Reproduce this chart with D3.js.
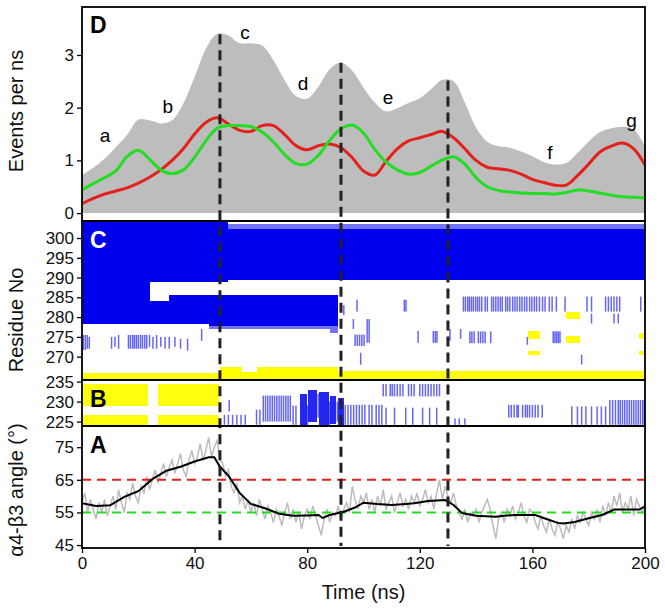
<!DOCTYPE html>
<html>
<head>
<meta charset="utf-8">
<script src="https://cdn.jsdelivr.net/npm/d3@7"></script>
<style>
  body { margin: 0; background: #fff; }
  svg { display: block; font-family: "Liberation Sans", Arial, sans-serif; }
</style>
</head>
<body>
<svg id="chart" width="665" height="611"></svg>
<script>
// ---- Panel D: events per ns (sampled every 4 ns) ----
const dTimes = [0,4,8,12,16,20,24,28,32,36,40,44,48,52,56,60,64,68,72,76,80,84,88,92,96,100,
  104,108,112,116,120,124,128,132,136,140,144,148,152,156,160,164,168,172,176,180,184,188,192,196,200];
const totalEvents = [0.72,0.86,1.03,1.25,1.48,1.77,1.76,1.70,1.76,2.08,2.58,3.12,3.40,3.37,3.22,3.22,3.18,2.90,2.52,2.22,2.17,
  2.40,2.73,2.85,2.70,2.38,2.10,1.93,1.99,2.09,2.18,2.35,2.53,2.50,2.10,1.62,1.35,1.27,1.24,1.17,1.08,0.97,0.92,0.95,1.14,1.36,
  1.54,1.61,1.64,1.59,1.26];
const redEvents = [0.18,0.28,0.36,0.42,0.48,0.57,0.68,0.82,1.00,1.22,1.50,1.72,1.81,1.69,1.57,1.55,1.66,1.66,1.49,1.28,1.20,
  1.28,1.31,1.24,1.05,0.80,0.72,0.98,1.22,1.37,1.43,1.49,1.55,1.43,1.22,1.00,0.87,0.84,0.81,0.74,0.64,0.58,0.53,0.53,0.71,0.93,
  1.16,1.27,1.33,1.22,0.91];
const greenEvents = [0.44,0.56,0.67,0.80,1.07,1.19,1.02,0.82,0.75,0.82,1.06,1.37,1.61,1.66,1.66,1.64,1.54,1.35,1.11,0.94,0.93,
  1.10,1.38,1.60,1.67,1.52,1.21,0.97,0.82,0.74,0.77,0.89,1.01,1.07,0.93,0.67,0.50,0.43,0.40,0.38,0.37,0.37,0.36,0.39,0.44,0.42,
  0.38,0.34,0.31,0.30,0.29];
const stageLabels = ["a","b","c","d","e","f","g"];
const stageLabelT = [8.2, 30.5, 57.9, 78.5, 108.7, 166.2, 195.2];
const stageLabelV = [1.48, 2.02, 3.42, 2.47, 2.2, 1.16, 1.76];
const eventTimes = [49, 92, 130];

// ---- Panel C: contacts, residues 264-304 ----
// dense blocks [t0, t1, resFrom, resTo]
const cBlueBlocks = [[0,52,289,304.3],[52,200,289.3,302.2],[0,24,278.3,289.5],[24,31,278.3,284],
  [31,45,278.3,285.5],[45,91,277.8,285.5]];
const cBlueFaint = [[52,200,302.2,303.6],[45,91,277,277.8],[88,91,276,277]];
// single events [t, resFrom, resTo]
const cBlueBars = [[0.5,271.7,275.5],[1.2,271.7,275.5],[1.9,272,275.5],[2.6,272,275],[10.5,272,275],[11.7,272.5,275],
  [13,272,275.5],[16.5,272,275.5],[17.2,272,275.5],[18,272,275.5],[18.6,272,275.5],[19.3,272,275.5],[20,272,275.5],
  [20.8,272,275.5],[21.5,272,275.5],[22.3,272,275.5],[23,272,275.5],[24,272.5,275.5],[25.2,272,275],[26.5,272,275.5],
  [28,272.5,275],[29.5,272,275],[31,272,275],[33,272.5,275],[35,272,274.5],[37.5,271.5,274.5],[42.5,274,277],
  [93,280.5,283],[96.4,277,279.5],[97.7,281.4,284.4],[97,272.7,275.6],[97.8,272.7,275.6],[98.6,272.7,275.6],
  [99.4,272.7,275.6],[100.2,272.7,275.6],[99,268,271],[101.3,273.5,279.5],[102,273.5,279.5],[114.5,281.4,284.4],
  [115.1,281.4,284.4],[119.4,273.5,276.5],[124.8,273.5,276.5],[125.5,273.5,276.5],[126.1,273.5,276.5],[130.7,274,277],
  [134.5,274.5,277],
  [135.5,281.4,285.2],[136.2,281.4,285.2],[137,281.4,285.2],[137.6,281.4,285.2],[138.3,281.4,285.2],[139,281.4,285.2],
  [139.8,281.4,285.2],[140.5,281.4,285.2],[141.2,281.4,285.2],[142,281.4,285.2],[143.2,281.4,285.2],[144,281.4,285.2],
  [145.5,281.4,285.2],[146.2,281.4,285.2],[147,281.4,285.2],[147.8,281.4,285.2],[148.6,281.4,285.2],[149.3,281.4,285.2],
  [150.5,281.4,285.2],[151.2,281.4,285.2],[152,281.4,285.2],[153,281.4,285.2],[153.8,281.4,285.2],[154.6,281.4,285.2],
  [155.5,281.4,285.2],[156.3,281.4,285.2],[157.2,281.4,285.2],[158,281.4,285.2],[159,281.4,285.2],[159.8,281.4,285.2],
  [160.7,281.4,285.2],[161.5,281.4,285.2],[162.5,281.4,285.2],[163.6,281.4,285.2],[164.5,281.4,285.2],[166,281.4,285.2],
  [167,281.4,285.2],[168.5,281.4,285.2],[171.6,281.4,285.2],[179.4,281.4,285.2],[181,281.4,285.2],[186,281.4,285.2],
  [187,281.4,285.2],[188,281.4,285.2],[189,281.4,285.2],[190,281.4,285.2],[191,281.4,285.2],[198.5,281.4,285.2],
  [181,278.4,280.9],[189,278.4,280.9],[190.5,278.4,280.9],
  [137.8,273.4,276.4],[138.5,273.4,276.4],[139.3,273.4,276.4],[140.8,273.4,276.4],[141.6,273.4,276.4],[142.4,273.4,276.4],
  [143.2,273.4,276.4],[145.2,273.4,276.4],[158.2,273,275],[167.4,273.4,276.4],[168,273.4,276.4],[168.6,273.4,276.4],
  [169.2,273.4,276.4],[169.8,273.4,276.4],[177.5,268,270.5]];
const cYellowBlocks = [[0,49,264.1,265.8],[49,57,264.1,267.3],[57,62,264.1,266.2],[62,91,264.1,267.5],[91,200,264.1,266.3],
  [158.5,162.7,274.4,276.4],[158.5,162.7,270.4,271.5],[171.9,177,279.5,281.4],[172,177,273.4,275.3],
  [198,199.6,274.4,276],[198,199.6,270.4,271.5]];

// ---- Panel B: contacts, residues 224-235 ----
const bYellowBlocks = [[0,23.3,228.8,234.3],[27,48.7,228.8,234.3],[0,23.3,224.2,226.6],[27,48.7,224.2,226.6]];
const bBlueBlocks = [[77.4,79.8,224.2,232],[80.4,83.6,225,233],[84.2,87.6,224.2,232.5],[88.2,90.4,224.5,231.5],
  [91,93,224.2,231]];
const bBlueBars = [[50.6,224.2,226.7],[52,224.2,226.7],[53.5,224.2,226.7],[55,224.2,226.7],[56.5,224.2,226.7],
  [58,224.2,226.7],[52.3,227.5,230.4],[62,224.2,228],[63.2,224.2,228],
  [64.4,225,231.5],[65.2,225,231.5],[66,225,231.5],[66.8,225,231.5],[67.6,225,231.5],[68.4,225,231.5],[69.2,225,231.5],
  [70,225,231.5],[70.8,225,231.5],[71.6,225,231.5],[72.4,225,231.5],[73.2,225,231.5],[74,225,231.5],[75,224.2,229],
  [76,224.2,229],[80.1,224.2,229],[83.9,226,232],[87.9,224.2,230],[90.7,225,230],
  [93.5,224.2,229.2],[94.5,224.2,229.2],[95.5,224.2,229.2],[96.5,224.2,229.2],[97.5,224.2,229.2],[98.5,224.2,229.2],
  [99.5,224.2,229.2],[100.5,224.2,229.2],[102,224.2,229.2],[103,224.2,229.2],[104.5,224.2,229.2],[105.5,224.2,229.2],
  [106.5,224.2,229.2],
  [107,231.3,234.4],[108,231.3,234.4],[109.5,231.3,234.4],[110.2,231.3,234.4],[111,231.3,234.4],[112,231.3,234.4],
  [113,231.3,234.4],[114,231.3,234.4],[116,231.3,234.4],[117,231.3,234.4],[118,231.3,234.4],
  [108,224.2,228.5],[111,224.2,228.5],[115,224.2,228.5],[117.5,224.2,228.5],
  [120,231.3,234.4],[121,231.3,234.4],[122,231.3,234.4],[123,231.3,234.4],[124,231.3,234.4],[125,231.3,234.4],
  [126,231.3,234.4],[127,231.3,234.4],[121,224.2,228.5],[123.5,224.2,228.5],[126,224.2,228.5],
  [132.5,224.2,225.8],[134,224.2,225.8],[136,224.2,225.8],
  [151.6,226,229.2],[152.5,226,229.2],[153.5,226,229.2],[154.5,226,229.2],[155,226,229.2],[156.5,226,229.2],
  [157.5,226,229.2],[158.2,226,229.2],[159,226,229.2],[160,226,229.2],[161,226,229.2],[162,226,229.2],[163.5,226,229.2],
  [174,224.2,228.8],[176,224.2,228.8],[177.5,224.2,228.8],[179,224.2,228.8],[181,224.2,228.8],[183,224.2,228.8],
  [184.5,224.2,228.8],[186,224.2,228.8],
  [187.5,224.2,230.4],[188.5,224.2,230.4],[189.5,224.2,230.4],[190.5,224.2,230.4],[191.2,224.2,230.4],[192,224.2,230.4],
  [192.8,224.2,230.4],[193.6,224.2,230.4],[194.4,224.2,230.4],[195.2,224.2,230.4],[196,224.2,230.4],[196.8,224.2,230.4],
  [197.6,224.2,230.4],[198.4,224.2,230.4],[199.2,224.2,230.4],[199.8,224.2,230.4]];

// ---- Panel A: a4-b3 angle, raw every 1 ns and running mean ----
const rawAngle = [58,61,55,59,56,53,58,55,59,54, 57,60,56,62,58,55,61,59,64,60, 58,63,61,66,62,65,68,64,67,70,
  66,69,71,67,70,73,68,66,71,74, 70,72,76,71,74,78,72,75,77,71, 70,66,68,63,61,64,58,60,56,59,
  55,58,54,59,56,53,57,55,52,56, 54,51,55,58,53,56,52,55,50,54, 56,53,57,54,51,48,53,56,52,55,
  54,57,53,56,58,55,63,59,56,60, 58,61,56,59,55,60,57,62,56,58, 60,55,58,61,57,59,56,60,58,61,
  57,59,62,58,60,56,61,65,59,63, 60,58,61,57,55,53,56,52,55,54, 56,52,55,57,59,56,51,47,53,55,
  52,56,54,57,53,55,58,54,52,56, 55,52,50,54,51,49,53,50,48,52, 50,47,51,49,53,50,54,52,55,53,
  51,55,53,56,52,57,54,58,55,60, 57,61,55,58,56,60,54,59,57,55, 58];
const meanTimes = [0,5,10,15,20,25,30,35,40,45,47,49,52,56,60,65,70,75,80,84,85.5,88,93,97,100,105,110,115,118,123,129,
  132,135,140,147,150,154,161,165,169,171,175,180,185,189,198,200];
const meanAngle = [57.8,57.0,57.2,59.8,61.5,65.2,67.8,69.0,70.6,71.9,71.9,69.0,66.3,61.0,57.6,56.3,54.6,54.0,54.1,54.2,
  53.3,54.2,55.2,56.5,58.0,57.6,57.3,57.6,57.8,58.5,58.8,57.3,54.8,54.0,53.7,54.0,54.2,54.2,53.0,51.8,51.6,52.1,53.2,
  54.3,55.9,55.9,56.9];
const angleRefLines = [65, 55];

const xTicks = [0, 40, 80, 120, 160, 200];

// ---- Layout ----
const left = 82, right = 645;
const panels = {
  D: { top: 7, bottom: 221 },
  C: { top: 221, bottom: 380 },
  B: { top: 380, bottom: 426 },
  A: { top: 426, bottom: 548 }
};
const blue = "#0000ee", yellow = "#ffff00", tickFont = 17, titleFont = 20;

const svg = d3.select("#chart");

const x = d3.scaleLinear().domain([0, 200]).range([left, right]);
const yD = d3.scaleLinear().domain([-0.15, 3.91]).range([panels.D.bottom, panels.D.top]);
const yC = d3.scaleLinear().domain([264.1, 304.3]).range([panels.C.bottom, panels.C.top]);
const yB = d3.scaleLinear().domain([223.9, 235.4]).range([panels.B.bottom, panels.B.top]);
const yA = d3.scaleLinear().domain([44.1, 81.5]).range([panels.A.bottom, panels.A.top]);

// clip paths so nothing spills out of a panel
const defs = svg.append("defs");
Object.keys(panels).forEach(k => {
  defs.append("clipPath").attr("id", "clip" + k)
    .append("rect")
    .attr("x", left).attr("y", panels[k].top)
    .attr("width", right - left).attr("height", panels[k].bottom - panels[k].top);
});

// ---- Panel D ----
const gD = svg.append("g").attr("clip-path", "url(#clipD)");
const dPoints = dTimes.map((t, i) => i);

gD.append("path")
  .datum(dPoints)
  .attr("fill", "#bdbdbd")
  .attr("d", d3.area()
    .x(i => x(dTimes[i]))
    .y0(yD(0))
    .y1(i => yD(totalEvents[i]))
    .curve(d3.curveCatmullRom));

[[redEvents, "#e3201b"], [greenEvents, "#22dd22"]].forEach(([vals, col]) => {
  gD.append("path")
    .datum(dPoints)
    .attr("fill", "none")
    .attr("stroke", col)
    .attr("stroke-width", 3)
    .attr("d", d3.line()
      .x(i => x(dTimes[i]))
      .y(i => yD(vals[i]))
      .curve(d3.curveCatmullRom));
});

svg.append("g")
  .selectAll("text")
  .data(stageLabels)
  .join("text")
  .attr("x", (d, i) => x(stageLabelT[i]))
  .attr("y", (d, i) => yD(stageLabelV[i]))
  .attr("dy", "0.35em")
  .attr("text-anchor", "middle")
  .attr("font-size", 19)
  .text(d => d);

// ---- Panel C ----
const gC = svg.append("g").attr("clip-path", "url(#clipC)");

// solid blocks are drawn crisp so neighbouring rects don't show seams
function drawBlocks(g, rows, yScale, fill, opacity) {
  g.append("g")
    .attr("shape-rendering", "crispEdges")
    .selectAll("rect")
    .data(rows)
    .join("rect")
    .attr("x", d => x(d[0]))
    .attr("width", d => x(d[1]) - x(d[0]))
    .attr("y", d => yScale(d[3]))
    .attr("height", d => yScale(d[2]) - yScale(d[3]))
    .attr("fill", fill)
    .attr("opacity", opacity);
}

function drawBars(g, rows, yScale, fill, opacity) {
  g.append("g")
    .selectAll("rect")
    .data(rows)
    .join("rect")
    .attr("x", d => x(d[0]) - 0.75)
    .attr("width", 1.5)
    .attr("y", d => yScale(d[2]))
    .attr("height", d => yScale(d[1]) - yScale(d[2]))
    .attr("fill", fill)
    .attr("opacity", opacity);
}

drawBlocks(gC, cBlueBlocks, yC, blue, 1);
drawBlocks(gC, cBlueFaint, yC, blue, 0.55);
drawBars(gC, cBlueBars, yC, blue, 0.6);
drawBlocks(gC, cYellowBlocks, yC, yellow, 1);

// ---- Panel B ----
const gB = svg.append("g").attr("clip-path", "url(#clipB)");
drawBlocks(gB, bYellowBlocks, yB, yellow, 0.95);
drawBlocks(gB, bBlueBlocks, yB, blue, 0.85);
drawBars(gB, bBlueBars, yB, blue, 0.6);

// ---- Panel A ----
const gA = svg.append("g").attr("clip-path", "url(#clipA)");

gA.append("path")
  .datum(rawAngle)
  .attr("fill", "none")
  .attr("stroke", "#bcbcbc")
  .attr("stroke-width", 1.5)
  .attr("d", d3.line().x((d, i) => x(i)).y(d => yA(d)));

gA.selectAll(".ref")
  .data(angleRefLines)
  .join("line")
  .attr("x1", left).attr("x2", right)
  .attr("y1", d => yA(d)).attr("y2", d => yA(d))
  .attr("stroke", (d, i) => i === 0 ? "#e3201b" : "#22dd22")
  .attr("stroke-width", 2)
  .attr("stroke-dasharray", "9,6");

gA.append("path")
  .datum(meanTimes.map((t, i) => i))
  .attr("fill", "none")
  .attr("stroke", "#000")
  .attr("stroke-width", 2)
  .attr("d", d3.line().x(i => x(meanTimes[i])).y(i => yA(meanAngle[i])));

// ---- Event lines from top of grey curve down through all panels ----
const totalAt = t => {
  const j = Math.min(d3.bisectRight(dTimes, t), dTimes.length - 1);
  const f = (t - dTimes[j - 1]) / (dTimes[j] - dTimes[j - 1]);
  return totalEvents[j - 1] + f * (totalEvents[j] - totalEvents[j - 1]);
};

svg.append("g")
  .selectAll("line")
  .data(eventTimes)
  .join("line")
  .attr("x1", d => x(d)).attr("x2", d => x(d))
  .attr("y1", d => yD(totalAt(d)))
  .attr("y2", panels.A.bottom - 2)
  .attr("stroke", "#222")
  .attr("stroke-width", 3)
  .attr("stroke-dasharray", "10,6");

// ---- Frames ----
Object.keys(panels).forEach(k => {
  svg.append("rect")
    .attr("x", left).attr("y", panels[k].top)
    .attr("width", right - left).attr("height", panels[k].bottom - panels[k].top)
    .attr("fill", "none")
    .attr("stroke", "#000")
    .attr("stroke-width", 1.8);
});

// ---- Axes ----
function styleAxis(g) {
  g.select(".domain").remove();
  g.selectAll(".tick line").attr("stroke", "#000").attr("stroke-width", 1.3);
  g.selectAll(".tick text").attr("font-size", tickFont).attr("fill", "#111")
    .attr("font-family", "Liberation Sans, Arial, sans-serif");
}

const fmt = d3.format("d");
svg.append("g").attr("transform", `translate(${left},0)`)
  .call(d3.axisLeft(yD).tickValues([0, 1, 2, 3]).tickFormat(fmt).tickSize(5).tickPadding(3))
  .call(styleAxis);
svg.append("g").attr("transform", `translate(${left},0)`)
  .call(d3.axisLeft(yC).tickValues([270, 275, 280, 285, 290, 295, 300]).tickFormat(fmt).tickSize(5).tickPadding(3))
  .call(styleAxis);
svg.append("g").attr("transform", `translate(${left},0)`)
  .call(d3.axisLeft(yB).tickValues([225, 230, 235]).tickFormat(fmt).tickSize(5).tickPadding(3))
  .call(styleAxis);
svg.append("g").attr("transform", `translate(${left},0)`)
  .call(d3.axisLeft(yA).tickValues([45, 55, 65, 75]).tickFormat(fmt).tickSize(5).tickPadding(3))
  .call(styleAxis);
svg.append("g").attr("transform", `translate(0,${panels.A.bottom})`)
  .call(d3.axisBottom(x).tickValues(xTicks).tickFormat(fmt).tickSize(5).tickPadding(4))
  .call(styleAxis);

// ---- Panel letters ----
[["D", 33, "#000"], ["C", 248, "#fff"], ["B", 407, "#000"], ["A", 453, "#000"]].forEach(([t, y, c]) => {
  svg.append("text")
    .attr("x", 90).attr("y", y)
    .attr("font-size", 23)
    .attr("font-weight", "bold")
    .attr("fill", c)
    .text(t);
});

// ---- Axis titles ----
const titles = [["Events per ns", 111], ["Residue No", 320], ["α4-β3 angle (°)", 490]];
titles.forEach(([t, cy]) => {
  svg.append("text")
    .attr("transform", `translate(23,${cy}) rotate(-90)`)
    .attr("text-anchor", "middle")
    .attr("font-size", titleFont)
    .attr("fill", "#111")
    .text(t);
});

svg.append("text")
  .attr("x", (left + right) / 2)
  .attr("y", 599)
  .attr("text-anchor", "middle")
  .attr("font-size", titleFont)
  .attr("fill", "#111")
  .text("Time (ns)");
</script>
</body>
</html>
